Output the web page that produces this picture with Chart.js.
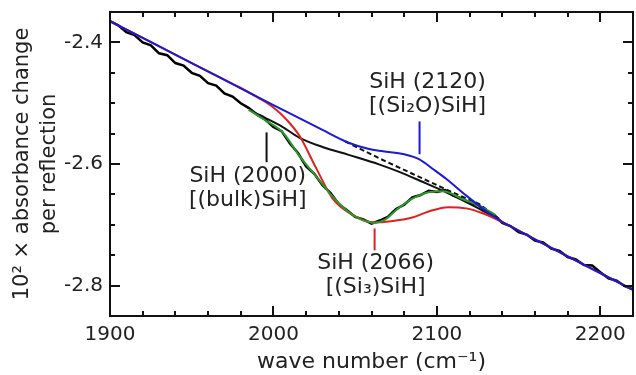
<!DOCTYPE html>
<html>
<head>
<meta charset="utf-8">
<script src="https://cdn.jsdelivr.net/npm/chart.js@4.4.1/dist/chart.umd.min.js"></script>
<style>
  html, body { margin: 0; padding: 0; background: #fff; }
  canvas { display: block; }
</style>
</head>
<body>
<canvas id="spectrum" width="636" height="375"></canvas>
<script>
// measured spectrum (black, noisy)
const dataWave = [1900, 1905, 1910, 1915, 1920, 1925, 1930, 1935, 1940, 1945, 1950, 1955, 1960, 1965, 1970, 1975, 1980,
  1985, 1990, 1995, 2000, 2005, 2010, 2015, 2020, 2025, 2030, 2035, 2040, 2045, 2050, 2055, 2060, 2065, 2070, 2075,
  2080, 2085, 2090, 2095, 2100, 2105, 2110, 2115, 2120, 2125, 2130, 2135, 2140, 2145, 2150, 2155, 2160, 2165, 2170,
  2175, 2180, 2185, 2190, 2195, 2200, 2205, 2210, 2215, 2220];
const dataAbs = [-2.365, -2.372, -2.383, -2.388, -2.400, -2.405, -2.418, -2.421, -2.434, -2.438, -2.450, -2.455, -2.467, -2.471, -2.484, -2.489, -2.500,
  -2.508, -2.519, -2.527, -2.539, -2.546, -2.566, -2.582, -2.604, -2.616, -2.635, -2.648, -2.666, -2.676, -2.687, -2.691, -2.698, -2.693, -2.687, -2.674,
  -2.667, -2.655, -2.651, -2.644, -2.646, -2.643, -2.652, -2.656, -2.664, -2.667, -2.677, -2.684, -2.697, -2.702, -2.712, -2.716, -2.726, -2.729, -2.739,
  -2.743, -2.753, -2.757, -2.766, -2.767, -2.778, -2.788, -2.792, -2.801, -2.806];

// baseline under the bulk peak (black solid)
const baseWave = [1985, 1995, 2005, 2016, 2030, 2046, 2065, 2077, 2090, 2106, 2124, 2138];
const baseAbs = [-2.511, -2.524, -2.538, -2.557, -2.572, -2.585, -2.601, -2.613, -2.628, -2.647, -2.671, -2.692];

// dashed baseline
const dashWave = [2044, 2065, 2085, 2105, 2126, 2138];
const dashAbs = [-2.563, -2.591, -2.616, -2.641, -2.666, -2.690];

// fit (green)
const fitWave = [1985, 1995, 2006, 2016, 2026, 2036, 2046, 2054, 2062, 2068, 2075, 2085, 2096, 2104, 2116, 2126, 2136];
const fitAbs = [-2.511, -2.528, -2.549, -2.587, -2.620, -2.653, -2.679, -2.692, -2.697, -2.692, -2.676, -2.657, -2.646, -2.645, -2.658, -2.669, -2.684];

// (Si3)SiH curve (red)
const si3Wave = [1900, 1950, 1980, 1990, 2000, 2008, 2016, 2026, 2036, 2048, 2061, 2072, 2085, 2095, 2107, 2118, 2128, 2142, 2160, 2220];
const si3Abs = [-2.365, -2.434, -2.475, -2.490, -2.507, -2.527, -2.554, -2.606, -2.656, -2.683, -2.696, -2.694, -2.688, -2.678, -2.671, -2.673, -2.681, -2.698, -2.724, -2.807];

// (Si2O)SiH curve (blue)
const si2oWave = [1900, 1950, 2000, 2030, 2046, 2058, 2067, 2080, 2089, 2098, 2106, 2118, 2130, 2140, 2146, 2180, 2220];
const si2oAbs = [-2.365, -2.434, -2.503, -2.544, -2.565, -2.575, -2.579, -2.584, -2.592, -2.609, -2.625, -2.652, -2.677, -2.695, -2.704, -2.752, -2.807];

// axis ticks
const xMin = 1900, xMax = 2220, xStep = 20;
const yMin = -2.85, yMax = -2.35, yStep = 0.05;

// peak labels: text centre (x, y) and leader line (lineX, y1 -> y2)
const peakLabels = [
  { text: ['SiH (2120)', '[(Si\u2082O)SiH]'], x: 2094.3, y: -2.4655, lineX: 2089.4, y1: -2.530, y2: -2.584, color: '#1a1ad6' },
  { text: ['SiH (2000)', '[(bulk)SiH]'], x: 1984.3, y: -2.620, lineX: 1995.8, y1: -2.548, y2: -2.597, color: '#111' },
  { text: ['SiH (2066)', '[(Si\u2083)SiH]'], x: 2062.5, y: -2.764, lineX: 2061.9, y1: -2.706, y2: -2.742, color: '#e02020' }
];

function toPoints(xs, ys) {
  return xs.map((x, i) => ({ x: x, y: ys[i] }));
}

const fontFamily = '"DejaVu Sans", sans-serif';

const framePlugin = {
  id: 'frame',
  afterDraw(chart) {
    const ctx = chart.ctx;
    const area = chart.chartArea;
    const xs = chart.scales.x;
    const ys = chart.scales.y;
    ctx.save();
    ctx.strokeStyle = '#111';
    ctx.lineWidth = 2;
    ctx.strokeRect(area.left, area.top, area.right - area.left, area.bottom - area.top);

    ctx.beginPath();
    xs.ticks.forEach(t => {
      const px = Math.round(xs.getPixelForValue(t.value));
      const len = (Math.round(t.value) % 100 === 0) ? 10 : 5;
      ctx.moveTo(px, area.bottom); ctx.lineTo(px, area.bottom - len);
      ctx.moveTo(px, area.top); ctx.lineTo(px, area.top + len);
    });
    ys.ticks.forEach(t => {
      const py = Math.round(ys.getPixelForValue(t.value));
      const k = Math.round(t.value * 100);
      const len = (k % 20 === 0) ? 10 : 5;
      ctx.moveTo(area.left, py); ctx.lineTo(area.left + len, py);
      ctx.moveTo(area.right, py); ctx.lineTo(area.right - len, py);
    });
    ctx.stroke();

    // peak labels
    ctx.font = '22px ' + fontFamily;
    ctx.textAlign = 'center';
    ctx.textBaseline = 'middle';
    peakLabels.forEach(p => {
      const lx = xs.getPixelForValue(p.lineX);
      ctx.strokeStyle = p.color;
      ctx.lineWidth = 2;
      ctx.beginPath();
      ctx.moveTo(lx, ys.getPixelForValue(p.y1));
      ctx.lineTo(lx, ys.getPixelForValue(p.y2));
      ctx.stroke();
      ctx.fillStyle = '#222';
      const tx = xs.getPixelForValue(p.x);
      const ty = ys.getPixelForValue(p.y);
      p.text.forEach((line, i) => ctx.fillText(line, tx, ty + i * 24));
    });
    ctx.restore();
  }
};

const ctx = document.getElementById('spectrum').getContext('2d');
const spectrumChart = new Chart(ctx, {
  type: 'scatter',
  data: {
    datasets: [
      { label: '(Si2O)SiH', data: toPoints(si2oWave, si2oAbs), borderColor: '#1a1ad6', borderWidth: 2,
        showLine: true, pointRadius: 0, cubicInterpolationMode: 'monotone', order: 0 },
      { label: 'fit', data: toPoints(fitWave, fitAbs), borderColor: '#2a9a2a', borderWidth: 2,
        showLine: true, pointRadius: 0, cubicInterpolationMode: 'monotone', order: 1 },
      { label: '(Si3)SiH', data: toPoints(si3Wave, si3Abs), borderColor: '#e02020', borderWidth: 2,
        showLine: true, pointRadius: 0, cubicInterpolationMode: 'monotone', order: 2 },
      { label: 'dashed', data: toPoints(dashWave, dashAbs), borderColor: '#111', borderWidth: 2, borderDash: [5, 3],
        showLine: true, pointRadius: 0, order: 3 },
      { label: 'baseline', data: toPoints(baseWave, baseAbs), borderColor: '#111', borderWidth: 2,
        showLine: true, pointRadius: 0, cubicInterpolationMode: 'monotone', order: 4 },
      { label: 'data', data: toPoints(dataWave, dataAbs), borderColor: '#000', borderWidth: 2.5,
        showLine: true, pointRadius: 0, tension: 0, order: 5 }
    ]
  },
  options: {
    responsive: false,
    animation: false,
    devicePixelRatio: 1,
    layout: { padding: { left: 0, right: 3, top: 12, bottom: 0 } },
    plugins: { legend: { display: false }, tooltip: { enabled: false } },
    scales: {
      x: {
        type: 'linear', min: xMin, max: xMax,
        grid: { display: false, drawTicks: false },
        border: { display: false },
        ticks: {
          stepSize: xStep, padding: 7, maxRotation: 0, autoSkip: false,
          color: '#222', font: { family: fontFamily, size: 20 },
          callback: v => (Math.round(v) % 100 === 0 ? String(Math.round(v)) : '')
        },
        title: {
          display: true, text: 'wave number (cm\u207B\u00B9)', color: '#222',
          font: { family: fontFamily, size: 22 }, padding: { top: 0, bottom: 0 }
        },
        afterFit: s => { s.height = 59; s.paddingLeft = 0; s.paddingRight = 0; }
      },
      y: {
        type: 'linear', min: yMin, max: yMax,
        grid: { display: false, drawTicks: false },
        border: { display: false },
        ticks: {
          stepSize: yStep, padding: 7, autoSkip: false,
          color: '#222', font: { family: fontFamily, size: 20 },
          callback: v => {
            const k = Math.round(v * 100);
            return k % 20 === 0 ? (k / 100).toFixed(1) : '';
          }
        },
        title: {
          display: true, text: ['10\u00B2 \u00D7 absorbance change', 'per reflection'], color: '#222',
          font: { family: fontFamily, size: 21, lineHeight: 1.24 }, padding: { top: 10, bottom: 0 }
        },
        afterFit: s => { s.width = 110; s.paddingTop = 0; s.paddingBottom = 0; }
      }
    }
  },
  plugins: [framePlugin]
});
</script>
</body>
</html>
